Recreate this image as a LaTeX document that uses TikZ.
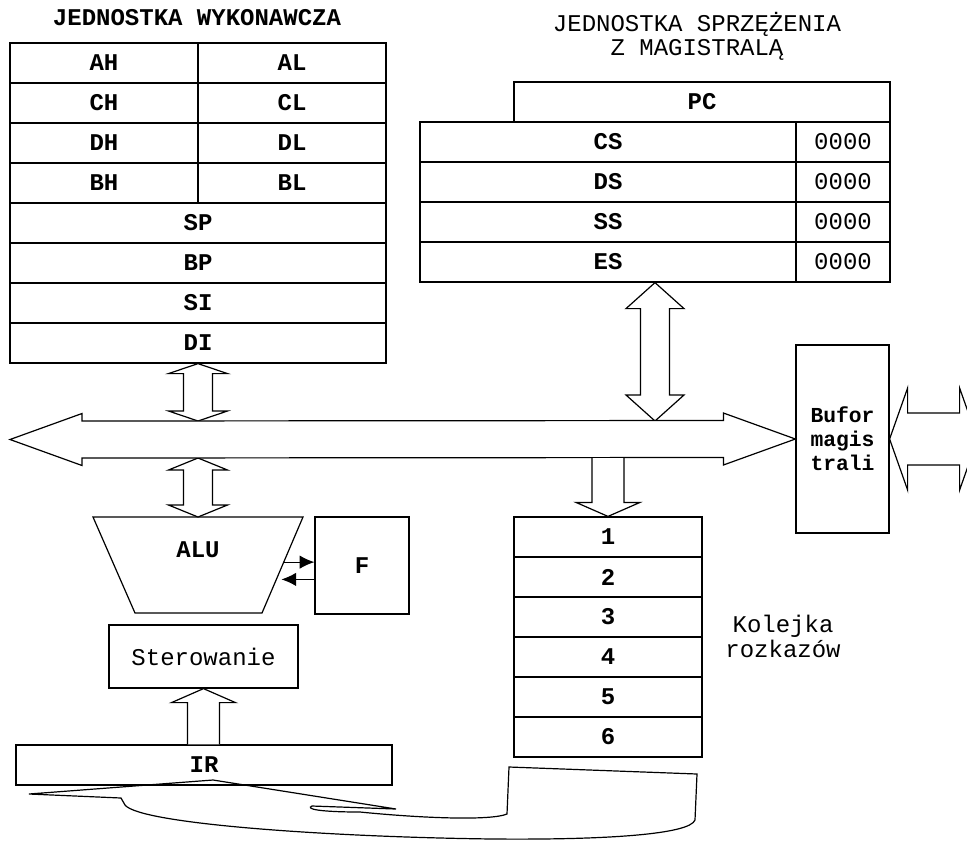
\documentclass[tikz,border=0pt]{standalone}
\usepackage{fontspec}
\setmainfont{Liberation Mono}
\usetikzlibrary{calc,arrows.meta}

\tikzset{
  rej/.style={draw, line width=0.9pt, inner sep=0pt, minimum height=30pt, font=\fontsize{18}{22}\selectfont\bfseries},
  polrej/.style={rej, minimum width=141pt},
  pelnyrej/.style={rej, minimum width=282pt},
  wartosc/.style={rej, minimum width=70.5pt, font=\fontsize{18}{22}\selectfont},
  blok/.style={draw, line width=0.9pt, fill=white, line join=miter},
  opis/.style={font=\fontsize{18}{18}\selectfont, align=center, inner sep=0pt},
  flaga/.style={line width=0.9pt, -{Latex[length=11pt,width=10pt]}},
}

% pionowa strzalka dwustronna: grot gorny, grot dolny, dlugosc grotu, pol szer. grotu, pol szer. trzonu
\newcommand{\dwustrzalka}[5]{%
  \draw[blok] (#1) -- ($(#1)+(#4,#3)$) -- ($(#1)+(#5,#3)$) -- ($(#2)+(#5,-#3)$) -- ($(#2)+(#4,-#3)$) -- (#2)
    -- ($(#2)+(-#4,-#3)$) -- ($(#2)+(-#5,-#3)$) -- ($(#1)+(-#5,#3)$) -- ($(#1)+(-#4,#3)$) -- cycle;}
% pozioma strzalka dwustronna: grot lewy, grot prawy, ...
\newcommand{\dwustrzalkah}[5]{%
  \draw[blok] (#1) -- ($(#1)+(#3,-#4)$) -- ($(#1)+(#3,-#5)$) -- ($(#2)+(-#3,-#5)$) -- ($(#2)+(-#3,-#4)$) -- (#2)
    -- ($(#2)+(-#3,#4)$) -- ($(#2)+(-#3,#5)$) -- ($(#1)+(#3,#5)$) -- ($(#1)+(#3,#4)$) -- cycle;}

\begin{document}
\begin{tikzpicture}[x=0.75pt,y=-0.75pt]
\useasboundingbox (0,0) rectangle (967,840);
\clip (0,0) rectangle (967,840);

% jednostka wykonawcza
\node[opis, font=\fontsize{18}{18}\selectfont\bfseries] (tytul-wyk) at (197,18) {JEDNOSTKA WYKONAWCZA};
\foreach \h/\l [count=\i] in {AH/AL,CH/CL,DH/DL,BH/BL} {
  \node[polrej] (\h) at (104,23+40*\i) {\h};
  \node[polrej] (\l) at (292,23+40*\i) {\l};
}
\foreach \r [count=\i] in {SP,BP,SI,DI}
  \node[pelnyrej] (\r) at (198,183+40*\i) {\r};

% jednostka sprzezenia z magistrala
\node[opis] (tytul-bus) at (697,36) {JEDNOSTKA SPRZĘŻENIA\\Z MAGISTRALĄ};
\node[pelnyrej] (PC) at (702,102) {PC};
\foreach \s [count=\i] in {CS,DS,SS,ES} {
  \node[pelnyrej] (\s) at (608,102+40*\i) {\s};
  \node[wartosc] (\s-0) at (843,102+40*\i) {0000};
}

% bufor i kolejka
\node[rej, minimum width=69.75pt, minimum height=141pt, align=center, font=\fontsize{16}{18}\selectfont\bfseries] (bufor) at (842.5,439) {Bufor\\magis\\trali};
\foreach \k in {1,...,6}
  \node[polrej] (q\k) at (608,497+40*\k) {\k};
\node[opis, font=\fontsize{18}{18.75}\selectfont] (kolejka) at (783,636) {Kolejka\\rozkazów};

% ALU, F, sterowanie, IR
\coordinate (alu-tl) at (93,517); \coordinate (alu-tr) at (303,517);
\coordinate (alu-br) at (262,613); \coordinate (alu-bl) at (135,613);
\draw[blok] (alu-tl) -- (alu-tr) -- (alu-br) -- (alu-bl) -- cycle;
\node[font=\fontsize{18}{22}\selectfont\bfseries] (ALU) at (198,550) {ALU};
\node[rej, minimum width=70.5pt, minimum height=72.75pt] (F) at (362,565.5) {F};
\node[rej, minimum width=141.75pt, minimum height=47.25pt, font=\fontsize{18}{22}\selectfont] (ster) at (203.5,656.5) {Sterowanie};
\node[pelnyrej] (IR) at (204,765) {IR};

\coordinate (p1) at ($(alu-tr)!0.47!(alu-br)$);
\coordinate (p2) at ($(alu-tr)!0.65!(alu-br)$);
\draw[flaga] (p1) -- (p1 -| F.west);
\draw[flaga] (p2 -| F.west) -- ($(p2)+(5,0)$);

% magistrala
\coordinate (bus-top) at (0,421);
\coordinate (bus-bot) at (0,458);
\coordinate (bus-l) at (10,439.5);
\coordinate (a3-g) at ($(ES.south)+(47,0)$);
\coordinate (a3-d) at (a3-g |- bus-top);
\coordinate (a1-d) at (DI.south |- bus-top);
\coordinate (a2-g) at (DI.south |- bus-bot);
\coordinate (alu-top) at ($(alu-tl)!0.5!(alu-tr)$);

\dwustrzalka{DI.south}{a1-d}{10}{29.5}{14.5}
\dwustrzalka{a2-g}{alu-top}{12}{29.5}{14.5}
\dwustrzalka{a3-g}{a3-d}{26}{29}{14.5}
\dwustrzalkah{bus-l}{bufor.west}{72}{26}{18.5}
\coordinate (zew-r) at ($(bufor.east)+(88,0)$);
\dwustrzalkah{bufor.east}{zew-r}{18}{51}{26}

% do kolejki
\coordinate (a4-g) at (q1.north |- bus-bot);
\draw[blok] ($(a4-g)+(-16,0)$) -- ($(q1.north)+(-16,-14)$) -- ($(q1.north)+(-32,-14)$) -- (q1.north)
  -- ($(q1.north)+(32,-14)$) -- ($(q1.north)+(16,-14)$) -- ($(a4-g)+(16,0)$);
% z IR do sterowania
\coordinate (a5-d) at (ster.south |- IR.north);
\draw[blok] ($(a5-d)+(-16,0)$) -- ($(ster.south)+(-16,14)$) -- ($(ster.south)+(-32,14)$) -- (ster.south)
  -- ($(ster.south)+(32,14)$) -- ($(ster.south)+(16,14)$) -- ($(a5-d)+(16,0)$);

% powrot z kolejki do IR
\draw[line width=0.9pt, line join=miter] (509,767) -- (697,774) -- (695,820) .. controls (690,834) and (610,840) .. (493,839)
  .. controls (330,837) and (140,824) .. (125,805) -- (121,798) -- (29,794) -- (213,780) -- (396,809) -- (312,806)
  .. controls (305,809) and (320,812) .. (360,812) .. controls (420,818) and (490,821) .. (507,814) -- cycle;
\end{tikzpicture}
\end{document}
